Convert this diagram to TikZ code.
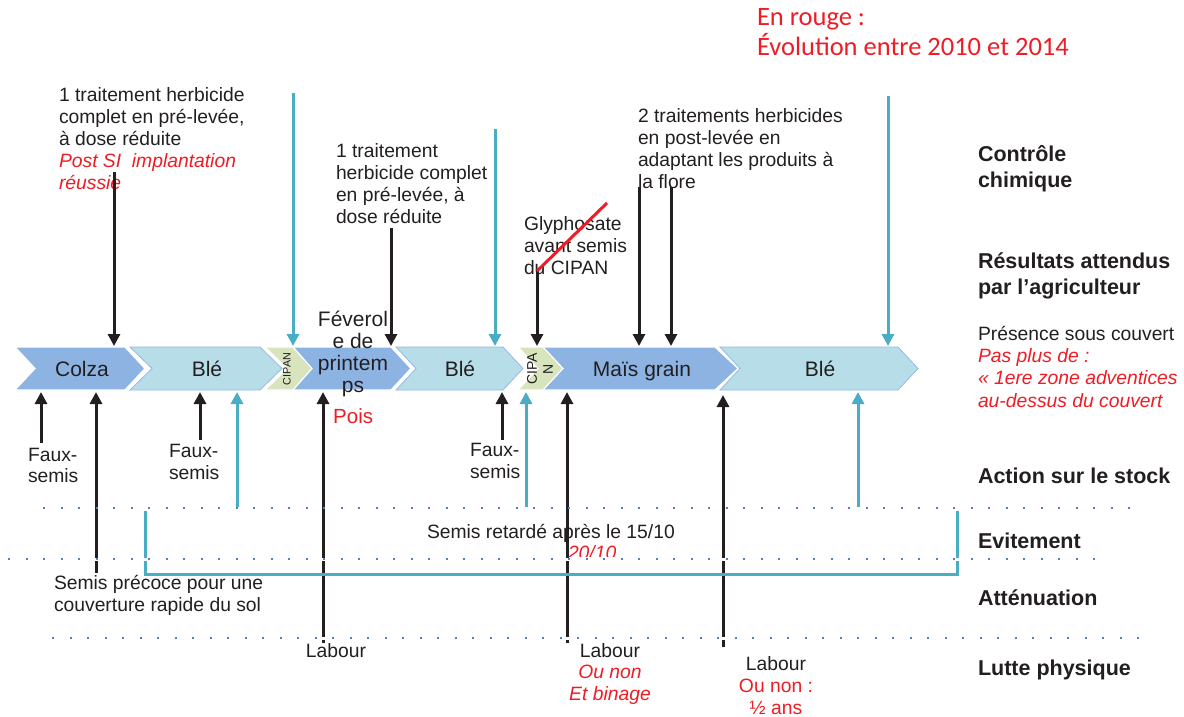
\documentclass[tikz,border=0pt]{standalone}
\usepackage{fontspec}
\setmainfont{Liberation Sans}
\newfontfamily\calibri{Carlito}
\usetikzlibrary{arrows.meta}
\definecolor{ink}{HTML}{231F20}
\definecolor{aqua}{HTML}{4BACC6}
\definecolor{redt}{HTML}{EE1C25}
\definecolor{cblue}{HTML}{8DB3E2}
\definecolor{clight}{HTML}{B7DEE8}
\definecolor{cedge}{HTML}{95B9E3}
\definecolor{cgreen}{HTML}{D7E4BD}
\definecolor{dotc}{HTML}{4F81BD}
\newcommand{\fsz}[2]{\fontsize{#1}{#2}\selectfont}
\newcommand{\firstln}{\rule{0pt}{1em}}
\newcommand{\rd}[1]{\textcolor{redt}{#1}}
\newcommand{\rdi}[1]{\textcolor{redt}{\itshape #1}}
\tikzset{
  txt/.style={inner sep=0pt, outer sep=0pt, text=ink, font=\fsz{19.3}{22.2}, align=left, anchor=north west},
  lab/.style={inner sep=0pt, outer sep=0pt, text=ink, font=\bfseries\fsz{21.5}{26}, align=left},
  clab/.style={inner sep=0pt, outer sep=0pt, text=ink, font=\fsz{21}{22}, anchor=base},
  karrow/.style={draw=ink, line width=3pt, -{Triangle[length=12pt,width=12pt]}},
  barrow/.style={karrow, draw=aqua},
  chevblue/.style={fill=cblue, draw=white, line width=1.2pt},
  chevlight/.style={fill=clight, draw=cedge, line width=0.8pt},
  chevgreen/.style={fill=cgreen, draw=white, line width=1.2pt},
  dotline/.style={draw=dotc, line width=2pt, dash pattern=on 2pt off 15.5pt},
  gapline/.style={draw=white, line width=3pt},
  bracket/.style={draw=aqua, line width=3pt}
}
\begin{document}
\begin{tikzpicture}[x=1pt,y=-1pt]
\useasboundingbox (0,0) rectangle (1184,716);

% ---------- title ----------
\node[txt, font=\calibri\fsz{26.5}{30}, text=redt] (title) at (757,-0.8)
  {\firstln En rouge :\\Évolution entre 2010 et 2014};

% ---------- chevrons ----------
\path[chevblue]  (15,347) -- (125,347) -- (145,368.5) -- (125,390) -- (15,390) -- (35,368.5) -- cycle;
\path[chevlight] (130,347) -- (260,347) -- (282,368.5) -- (260,390) -- (130,390) -- (152,368.5) -- cycle;
\path[chevblue]  (290,347) -- (391,347) -- (411,368.5) -- (391,390) -- (290,390) -- (310,368.5) -- cycle;
\path[chevgreen] (265,347) -- (293,347) -- (312,368.5) -- (293,390) -- (265,390) -- (287,368.5) -- cycle;
\path[chevlight] (396,347) -- (503,347) -- (523,368.5) -- (503,390) -- (396,390) -- (416,368.5) -- cycle;
\path[chevblue]  (541,347) -- (715,347) -- (738,368.5) -- (715,390) -- (541,390) -- (561,368.5) -- cycle;
\path[chevgreen] (518,347) -- (543,347) -- (563,368.5) -- (543,390) -- (518,390) -- (538,368.5) -- cycle;
\path[chevlight] (720,347) -- (898,347) -- (918,368.5) -- (898,390) -- (720,390) -- (740,368.5) -- cycle;

\node[clab] (colza) at (82,376.8) {Colza};
\node[clab] (ble1) at (207,376.8) {Blé};
\node[clab] (ble2) at (460,376.8) {Blé};
\node[clab] (mais) at (642,376.8) {Maïs grain};
\node[clab] (ble3) at (820,376.8) {Blé};
\node[clab, anchor=north, align=center] (fev) at (353,305.8) {\firstln Féverol\\e de\\printem\\ps};
\node[inner sep=0pt, text=ink, rotate=90, font=\fsz{10.8}{12}] (cip1) at (287,369) {CIPAN};
\node[inner sep=0pt, text=ink, rotate=90, align=center, font=\fsz{14}{16}] (cip2) at (540,369) {CIPA\\N};
\node[inner sep=0pt, anchor=base west, text=redt, font=\fsz{20.5}{22}] (pois) at (333,423.6) {Pois};

% ---------- top texts ----------
\node[txt] (t1) at (59,81.8) {\firstln 1 traitement herbicide\\complet en pré-levée,\\à dose réduite\\\rdi{Post SI\ \ implantation}\\\rdi{réussie}};
\node[txt] (t2) at (336,137.8) {\firstln 1 traitement\\herbicide complet\\en pré-levée, à\\dose réduite};
\node[txt] (t3) at (524,210.8) {\firstln Glyphosate\\avant semis\\du CIPAN};
\node[txt] (t4) at (638,102.8) {\firstln 2 traitements herbicides\\en post-levée en\\adaptant les produits à\\la flore};
\node[txt, font=\fsz{19.3}{22.4}] (t5) at (978,320.8) {\firstln Présence sous couvert\\\rdi{Pas plus de :}\\\rdi{« 1ere zone adventices}\\\rdi{au-dessus du couvert}};

% ---------- right labels ----------
\node[lab, anchor=north west] (l1) at (978,139.5) {\firstln Contrôle\\chimique};
\node[lab, anchor=north west] (l2) at (978,246.5) {\firstln Résultats attendus\\par l’agriculteur};
\node[lab, anchor=base west] (l3) at (978,483) {Action sur le stock};
\node[lab, anchor=base west] (l4) at (978,548) {Evitement};
\node[lab, anchor=base west] (l5) at (978,605) {Atténuation};
\node[lab, anchor=base west] (l6) at (978,675) {Lutte physique};

% ---------- bottom texts ----------
\node[txt, font=\fsz{19.3}{21.5}] (fs1) at (28,441.8) {\firstln Faux-\\semis};
\node[txt] (fs2) at (169,437.8) {\firstln Faux-\\semis};
\node[txt] (fs3) at (470,436.8) {\firstln Faux-\\semis};
\node[txt] (sp) at (54,569.8) {\firstln Semis précoce pour une\\couverture rapide du sol};
\node[txt, anchor=base west] (sr) at (427,538.1) {Semis retardé après le 15/10};
\begin{scope}
  \clip (540,530) rectangle (660,556.5);
  \node[txt, anchor=base west, text=redt, font=\itshape\fsz{19.3}{22}] (d2010) at (568,559) {20/10};
\end{scope}
\node[txt, anchor=base] (lab1) at (336,657) {Labour};
\node[txt, anchor=north, align=center, font=\fsz{19.3}{21.7}] (lab2) at (610,637.8) {\firstln Labour\\\rdi{Ou non}\\\rdi{Et binage}};
\node[txt, anchor=north, align=center, font=\fsz{19.3}{22}] (lab3) at (776,650.8) {\firstln Labour\\\rd{Ou non :}\\\rd{½ ans}};

% ---------- arrow end points ----------
\coordinate (a1) at (114,172);  \coordinate (a1h) at (114,346);
\coordinate (a2) at (293,93);   \coordinate (a2h) at (293,346);
\coordinate (a3) at (391,228);  \coordinate (a3h) at (391,346);
\coordinate (a4) at (495,129);  \coordinate (a4h) at (495,346);
\coordinate (a5) at (537,270);  \coordinate (a5h) at (537,346);
\coordinate (a6) at (639,187);  \coordinate (a6h) at (639,346);
\coordinate (a7) at (671,187);  \coordinate (a7h) at (671,346);
\coordinate (a8) at (888,96);   \coordinate (a8h) at (888,346);

\coordinate (b1) at (41,443);   \coordinate (b1h) at (41,392);
\coordinate (b2) at (96,573);   \coordinate (b2h) at (96,392);
\coordinate (b3) at (200,440);  \coordinate (b3h) at (200,392);
\coordinate (b4) at (237,507);  \coordinate (b4h) at (237,392);
\coordinate (b5) at (323,643);  \coordinate (b5h) at (323,392);
\coordinate (b6) at (502,440);  \coordinate (b6h) at (502,392);
\coordinate (b7) at (526,507);  \coordinate (b7h) at (526,392);
\coordinate (b8) at (567,643);  \coordinate (b8h) at (567,392);
\coordinate (b9) at (723,647);  \coordinate (b9h) at (723,395);
\coordinate (b10) at (858,507); \coordinate (b10h) at (858,392);

% ---------- top arrows ----------
\draw[karrow] (a1) -- (a1h);
\draw[barrow] (a2) -- (a2h);
\draw[karrow] (a3) -- (a3h);
\draw[barrow] (a4) -- (a4h);
\draw[karrow] (a5) -- (a5h);
\draw[karrow] (a6) -- (a6h);
\draw[karrow] (a7) -- (a7h);
\draw[barrow] (a8) -- (a8h);

% strike line on glyphosate
\coordinate (s1) at (537,271); \coordinate (s2) at (607,203);
\draw[redt, line width=3pt] (s1) -- (s2);

% ---------- bottom arrows ----------
\draw[karrow] (b1) -- (b1h);
\draw[karrow] (b2) -- (b2h);
\draw[karrow] (b3) -- (b3h);
\draw[barrow] (b4) -- (b4h);
\draw[karrow] (b5) -- (b5h);
\draw[karrow] (b6) -- (b6h);
\draw[barrow] (b7) -- (b7h);
\draw[karrow] (b8) -- (b8h);
\draw[karrow] (b9) -- (b9h);
\draw[barrow] (b10) -- (b10h);

% ---------- bracket ----------
\coordinate (k1) at (145,511); \coordinate (k2) at (145,574);
\coordinate (k3) at (957,574); \coordinate (k4) at (957,511);
\draw[bracket] (k1) -- (k2) -- (k3) -- (k4);

% ---------- dotted separators ----------
\coordinate (d1a) at (43,508); \coordinate (d1b) at (1132,508);
\coordinate (d2a) at (8,559);  \coordinate (d2b) at (1098,559);
\coordinate (d3a) at (52,638); \coordinate (d3b) at (1140,638);
\draw[gapline] (d2a) -- (d2b);
\draw[gapline] (d3a) -- (d3b);
\draw[dotline] (d1a) -- (d1b);
\draw[dotline] (d2a) -- (d2b);
\draw[dotline] (d3a) -- (d3b);
\end{tikzpicture}
\end{document}
